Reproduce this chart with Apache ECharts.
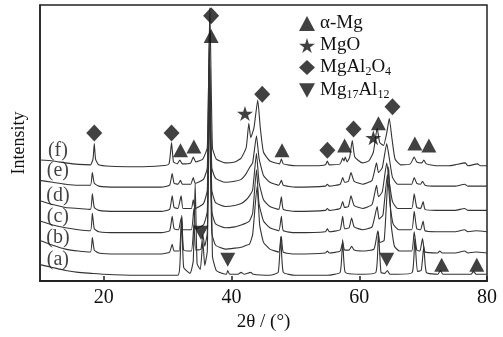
<!DOCTYPE html>
<html>
<head>
<meta charset="utf-8">
<script src="https://cdn.jsdelivr.net/npm/echarts@6/dist/echarts.min.js"></script>
<style>
  html, body { margin: 0; padding: 0; background: #fff; }
  #chart { width: 503px; height: 337px; }
</style>
</head>
<body>
<div id="chart"></div>
<script>
// XRD patterns (a)–(f): [2θ, relative intensity] vertices of each scan
const sampleNames = ['(a)', '(b)', '(c)', '(d)', '(e)', '(f)'];

const patternA = [[10, 11], [12, 8], [14, 5], [16, 3], [18, 2], [20, 1], [25, 0], [31.6, 0], [31.9, 10], [32.2, 60], [32.5, 8], [33.5, 2], [34.0, 15], [34.3, 95], [34.6, 12], [35.1, 6], [35.5, 35], [35.8, 10], [36.2, 25], [36.6, 214], [37.0, 20], [37.6, 5], [38.5, 2], [39.2, 1], [39.4, 5], [39.7, 1], [41.0, 1], [41.5, 3], [42, 1], [43.0, 3], [43.4, 1], [46, 0], [47.3, 3], [47.7, 40], [48.1, 3], [50, 0], [55, 0], [57.0, 3], [57.4, 37], [57.8, 3], [60, 1], [62.6, 3], [63.0, 45], [63.4, 3], [64.0, 2], [64.4, 5], [64.8, 1], [66, 1], [68.3, 3], [68.7, 38], [69.1, 4], [69.7, 5], [70.1, 30], [70.5, 3], [72.3, 1], [72.7, 5], [73.1, 1], [75, 1], [77.5, 1], [77.9, 4], [78.3, 1], [80, 1]];

const patternB = [[10, 14], [12, 9], [14, 5], [16, 3], [17.9, 2], [18.2, 17], [18.5, 4], [19.2, 1], [22, 0], [29, 0], [30.3, 2], [30.7, 10], [31.0, 3], [31.8, 3], [32.2, 40], [32.5, 4], [33.7, 3], [34.1, 30], [34.4, 4], [35.2, 5], [35.5, 20], [35.8, 8], [36.2, 22], [36.5, 162], [36.9, 22], [37.5, 9], [39, 5], [40.5, 6], [41.5, 7], [42.3, 9], [42.8, 10], [43.3, 20], [44.0, 70], [44.4, 30], [45, 12], [46, 5], [47.4, 2], [47.8, 18], [48.1, 2], [50, 0], [54.7, 1], [55.0, 3], [55.3, 1], [57.0, 3], [57.4, 12], [57.7, 4], [58.4, 4], [58.8, 8], [59.2, 4], [60.5, 3], [62.3, 5], [62.9, 24], [63.2, 12], [63.9, 14], [64.6, 90], [65.0, 30], [65.5, 8], [66.3, 3], [68.2, 3], [68.6, 23], [69.0, 4], [69.5, 3], [69.9, 16], [70.3, 2], [72.3, 1], [72.6, 3], [73, 1], [75, 1], [76.5, 3], [77, 1], [78.2, 2], [80, 1]];

const patternC = [[10, 12], [12, 8], [14, 5], [16, 3], [17.9, 2], [18.2, 20], [18.5, 4], [19.2, 1], [22, 0], [29, 0], [30.3, 2], [30.7, 17], [31.0, 4], [31.7, 3], [32.1, 15], [32.4, 3], [33.7, 3], [34.1, 25], [34.4, 4], [35.6, 8], [36.2, 22], [36.5, 160], [36.9, 22], [37.5, 9], [39, 5], [40.5, 6], [41.5, 8], [42.3, 10], [42.8, 12], [43.3, 20], [43.9, 65], [44.3, 30], [45, 12], [46, 5], [47.4, 2], [47.8, 17], [48.1, 2], [50, 0], [54.7, 1], [55.0, 4], [55.3, 1], [57.0, 3], [57.4, 17], [57.7, 4], [58.4, 5], [58.8, 15], [59.2, 6], [60.5, 3], [62, 6], [62.8, 27], [63.1, 14], [63.7, 18], [64.4, 60], [64.8, 30], [65.3, 9], [66.2, 3], [68.2, 3], [68.6, 22], [69.0, 4], [69.6, 3], [70.0, 12], [70.3, 2], [72, 1], [75, 1], [76.5, 3], [77, 1], [78.3, 2], [80, 1]];

const patternD = [[10, 11], [12, 7], [14, 4], [16, 3], [17.9, 2], [18.2, 18], [18.5, 4], [19.2, 1], [22, 0], [29, 0], [30.3, 2], [30.7, 16], [31.0, 4], [31.6, 3], [32.1, 16], [32.4, 3], [33.7, 3], [34.0, 12], [34.3, 3], [35.6, 8], [36.2, 22], [36.5, 158], [36.9, 22], [37.5, 9], [39, 5], [40.5, 6], [41.5, 8], [42.3, 12], [42.8, 16], [43.3, 22], [43.9, 60], [44.3, 30], [45, 12], [46, 5], [47.4, 2], [47.8, 15], [48.1, 2], [50, 0], [54.7, 1], [55.0, 3], [55.3, 1], [57.0, 3], [57.4, 10], [57.7, 4], [58.3, 5], [58.7, 16], [59.2, 6], [60.5, 3], [62, 7], [62.7, 27], [63.0, 15], [63.6, 20], [64.3, 50], [64.7, 30], [65.2, 10], [66, 3], [68.2, 3], [68.6, 18], [69.0, 4], [69.6, 3], [70.0, 10], [70.3, 2], [72, 1], [75, 1], [76.5, 3], [77, 1], [80, 1]];

const patternE = [[10, 7], [12, 5], [14, 3], [16, 2], [17.9, 2], [18.2, 15], [18.5, 4], [19.2, 1], [22, 0], [29, 0], [30.3, 2], [30.7, 14], [31.0, 4], [31.6, 3], [32.0, 7], [32.3, 3], [33.6, 3], [34.0, 10], [34.3, 4], [35.6, 8], [36.2, 20], [36.5, 153], [36.9, 20], [37.5, 9], [39, 5], [40.5, 6], [41.5, 8], [42.3, 14], [42.8, 20], [43.3, 25], [43.9, 53], [44.3, 30], [45, 12], [46, 5], [47.4, 2], [47.8, 7], [48.1, 2], [50, 0], [54.7, 1], [55.0, 3], [55.3, 1], [57.0, 3], [57.4, 10], [57.7, 5], [58.3, 6], [58.7, 15], [59.2, 6], [60.5, 3], [62, 7], [62.7, 25], [63.0, 15], [63.6, 20], [64.3, 45], [64.7, 30], [65.2, 10], [66, 3], [68.2, 3], [68.6, 10], [69.0, 4], [69.6, 3], [69.9, 6], [70.3, 2], [72, 1], [75, 1], [76.5, 3], [77, 1], [80, 1]];

const patternF = [[10, 7], [12, 6], [14, 4], [16, 2.5], [17.9, 2], [18.3, 8], [18.5, 24], [18.7, 8], [19.2, 2], [21, 0.5], [25, 0], [29, 1], [30.2, 3], [30.6, 25], [30.9, 5], [31.5, 3], [31.9, 7], [32.3, 3], [33.6, 4], [34.0, 10], [34.4, 5], [35.5, 8], [36.2, 20], [36.6, 164], [37.0, 20], [37.6, 8], [39, 4], [40.5, 5], [41.5, 9], [42.3, 20], [42.7, 45], [43.0, 30], [43.5, 40], [44.1, 69], [44.5, 40], [45, 15], [46, 6], [47.5, 3], [47.8, 8], [48.1, 3], [50, 1], [53, 1], [54.7, 2], [55.0, 6], [55.3, 2], [57, 3], [57.4, 9], [57.6, 6], [57.8, 10], [58.1, 5], [58.5, 10], [58.9, 27], [59.3, 10], [60.5, 4], [61.5, 6], [62.2, 15], [62.8, 40], [63.2, 25], [63.8, 22], [64.3, 35], [64.7, 50], [65.1, 30], [65.6, 8], [66.5, 2], [68, 3], [68.6, 10], [69.0, 5], [69.8, 4], [70.1, 7], [70.5, 3], [72, 1], [74, 1], [75, 2], [76.6, 4], [77, 1], [78.5, 3], [79, 1], [80, 1]];

const patterns = [patternA, patternB, patternC, patternD, patternE, patternF];

// vertical stacking of the scans
const stackOffsets = [6, 28, 50, 72, 97, 118];

// phase marks: [2θ, height on the stacked scale]
const phaseNames = ['α-Mg', 'MgO', 'MgAl2O4', 'Mg17Al12'];
const marksAlphaMg = [[32.0, 135], [34.1, 139], [36.8, 253], [47.9, 135], [57.7, 140], [63.0, 163], [68.7, 142], [70.9, 140], [72.9, 17], [78.4, 17]];
const marksMgO = [[42.1, 173], [62.2, 148]];
const marksSpinel = [[18.5, 153], [30.6, 153], [36.8, 274], [44.8, 193], [55.0, 135], [59.1, 157], [65.2, 180]];
const marksMg17Al12 = [[35.2, 50], [39.4, 22], [64.3, 22]];

// x-axis ticks
const xTicks = [20, 40, 60, 80];

const SERIF = '"Liberation Serif", "Times New Roman", serif';
const INK = '#111';
const TRACE = '#333';

const starPath = 'path://M50,0 L61,35 L98,35 L68,57 L79,91 L50,70 L21,91 L32,57 L2,35 L39,35 Z';
const downTriPath = 'path://M0,0 L100,0 L50,90 Z';

const chart = echarts.init(document.getElementById('chart'), null, { renderer: 'canvas' });

const traceSeries = patterns.map((pts, i) => ({
  type: 'line',
  name: sampleNames[i],
  data: pts.map(p => [p[0], p[1] + stackOffsets[i]]),
  showSymbol: false,
  symbol: 'none',
  smooth: 0.15,
  lineStyle: { color: TRACE, width: 1.1 },
  silent: true,
  z: 2
}));

const tagSeries = {
  type: 'scatter',
  name: 'tags',
  data: stackOffsets.map((o, i) => ({ value: [12.8, o + 16.5], name: sampleNames[i] })),
  symbolSize: 0,
  label: {
    show: true, position: 'inside', formatter: p => p.name,
    fontFamily: SERIF, fontSize: 20, color: INK
  },
  silent: true,
  z: 3
};

function markSeries(name, data, symbol, size) {
  return {
    type: 'scatter', name, data, symbol, symbolSize: size,
    itemStyle: { color: INK }, silent: true, z: 5
  };
}

const option = {
  animation: false,
  backgroundColor: '#fff',
  grid: { left: 40, right: 16, top: 5, bottom: 47, show: true, borderColor: '#222', borderWidth: 1.5 },
  legend: {
    data: phaseNames,
    orient: 'vertical',
    left: 294, top: 9,
    itemWidth: 16, itemHeight: 15, itemGap: 3,
    selectedMode: false,
    formatter: n => {
      if (n === 'MgAl2O4') return '{n|MgAl}{s|2}{n|O}{s|4}';
      if (n === 'Mg17Al12') return '{n|Mg}{s|17}{n|Al}{s|12}';
      return '{n|' + n + '}';
    },
    textStyle: {
      color: INK,
      rich: {
        n: { fontFamily: SERIF, fontSize: 19, color: INK },
        s: { fontFamily: SERIF, fontSize: 12, color: INK, padding: [9, 0, 0, 0] }
      }
    }
  },
  xAxis: {
    type: 'value', min: 10, max: 80,
    name: '2θ / (°)', nameLocation: 'middle', nameGap: 27,
    nameTextStyle: { fontFamily: SERIF, fontSize: 19, color: INK, padding: [0, 0, 0, 0] },
    axisLine: { lineStyle: { color: '#222', width: 2 } },
    axisTick: { inside: true, length: 5, customValues: xTicks, lineStyle: { color: '#222', width: 1.5 } },
    axisLabel: { customValues: xTicks, fontFamily: SERIF, fontSize: 20, color: INK, margin: 7 },
    splitLine: { show: false }
  },
  yAxis: {
    type: 'value', min: 0, max: 285,
    name: 'Intensity', nameLocation: 'middle', nameGap: 12,
    nameTextStyle: { fontFamily: SERIF, fontSize: 18, color: INK },
    axisLine: { show: true, lineStyle: { color: '#222', width: 1.5 } },
    axisTick: { show: false }, axisLabel: { show: false }, splitLine: { show: false }
  },
  series: [
    ...traceSeries,
    tagSeries,
    markSeries('α-Mg', marksAlphaMg, 'triangle', [15, 14]),
    markSeries('MgO', marksMgO, starPath, [16, 15]),
    markSeries('MgAl2O4', marksSpinel, 'diamond', [16, 17]),
    markSeries('Mg17Al12', marksMg17Al12, downTriPath, [15, 14])
  ]
};

chart.setOption(option);
</script>
</body>
</html>
